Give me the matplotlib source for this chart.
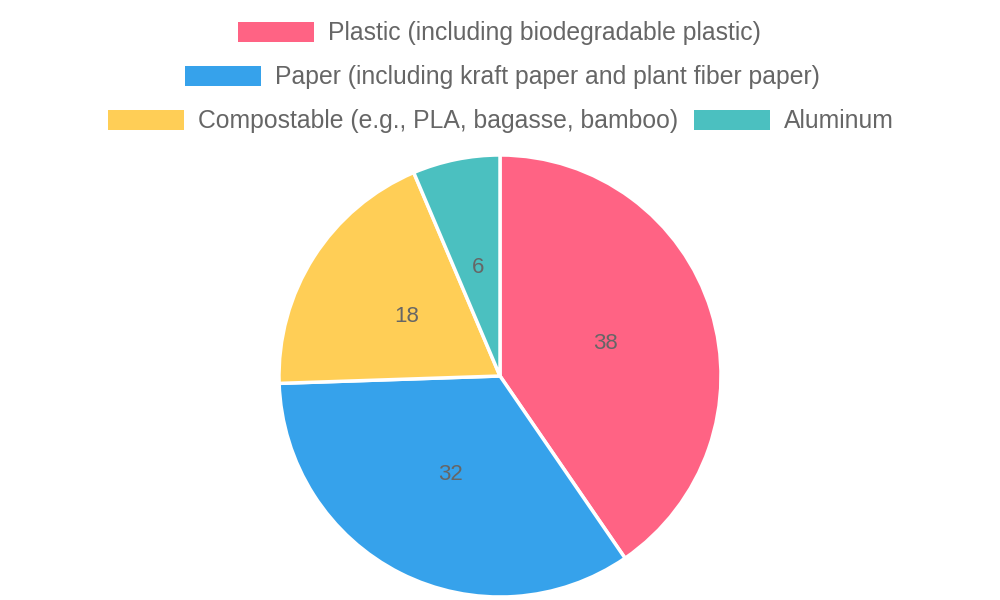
import matplotlib
matplotlib.use("Agg")
import matplotlib.pyplot as plt
from matplotlib.patches import Rectangle

labels = ["Plastic (including biodegradable plastic)",
          "Paper (including kraft paper and plant fiber paper)",
          "Compostable (e.g., PLA, bagasse, bamboo)",
          "Aluminum"]
values = [38, 32, 18, 6]
colors = ["#FF6384", "#36A2EB", "#FFCE56", "#4BC0C0"]

plt.rcParams['font.family'] = ['Liberation Sans', 'DejaVu Sans']
fig = plt.figure(figsize=(10, 6), dpi=100)
W, H = 1000, 600
cx, cy, r = 500, 376, 221
ax = fig.add_axes([(cx - r) / W, (H - cy - r) / H, 2 * r / W, 2 * r / H])
it = iter(values)
ax.pie(values, colors=colors, startangle=90, counterclock=False,
       wedgeprops=dict(edgecolor="white", linewidth=2.5),
       autopct=lambda p: f"{next(it)}", pctdistance=0.5,
       textprops=dict(color="#666666", fontsize=16))
ax.set_xlim(-1, 1)
ax.set_ylim(-1, 1)
ax.set_aspect("equal")
ax.axis("off")

legend_pos = [(238, 328, 32), (185, 275, 76), (108, 198, 120), (694, 784, 120)]
for (bx, tx, y), lab, c in zip(legend_pos, labels, colors):
    fig.patches.append(Rectangle((bx / W, (H - y - 10) / H), 76 / W, 20 / H,
                                 transform=fig.transFigure, facecolor=c, edgecolor="none"))
    fig.text(tx / W, (H - y - 1) / H, lab, ha="left", va="center",
             color="#666666", fontsize=17.8)

fig.savefig("out.png", dpi=100)
